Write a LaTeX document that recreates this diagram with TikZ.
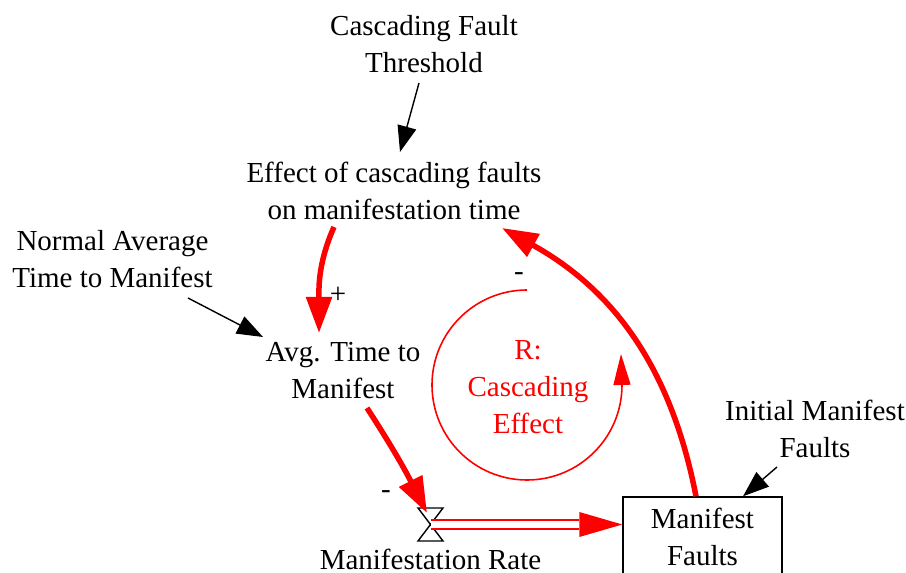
\documentclass[tikz,border=0pt]{standalone}
\usepackage{fontspec}
\setmainfont{Liberation Serif}
\usetikzlibrary{arrows.meta,calc}
\begin{document}
\begin{tikzpicture}[x=1pt,y=1pt,
  txt/.style={align=center, inner sep=0pt, font=\fontsize{29}{37}\selectfont},
  sgn/.style={inner sep=0pt, font=\fontsize{29}{37}\selectfont},
  blk/.style={line width=1.4pt, -{Triangle[length=26pt,width=19pt]}},
  lnk/.style={red, line width=5.5pt, -{Triangle[length=36pt,width=25pt]}},
  stockbox/.style={draw, line width=1.4pt, inner sep=0pt, minimum width=159pt, minimum height=79pt, align=center, font=\fontsize{29}{37}\selectfont},
  valveshape/.style={draw, line width=1.4pt, fill=white}
]
\useasboundingbox (0,0) rectangle (906,573);
\fill[white] (0,0) rectangle (906,573);

% text nodes
\node[txt] (thresh) at (424,529) {Cascading Fault\\Threshold};
\node[txt] (effect) at (394,382) {Effect of cascading faults\\on manifestation time};
\node[txt] (normal) at (112.5,313.5) {Normal Average\\Time to Manifest};
\node[txt] (avg) at (343,202.5) {Avg. Time to\\Manifest};
\node[txt] (initial) at (815,144.5) {Initial Manifest\\Faults};
\node[txt, text=red] (loop) at (528,186) {R:\\Cascading\\Effect};
\node[stockbox] (mf) at (702.5,36.5) {Manifest\\Faults};
\coordinate (valve) at (430.5,48.5);
\node[txt] (rate) at (430.5,14) {Manifestation Rate};

% valve (hourglass)
\draw[valveshape] ($(valve)+(-12.5,16.5)$) -- ($(valve)+(12.5,16.5)$) -- ($(valve)+(-12.5,-16.5)$) -- ($(valve)+(12.5,-16.5)$) -- cycle;

% flow pipe
\coordinate (pipeend) at (mf.west |- valve);
\draw[red, line width=2.4pt, double=white, double distance=6.6pt] (valve) -- ($(pipeend)+(-43,0)$);
\fill[red] ($(pipeend)+(-43,12.5)$) -- (pipeend) -- ($(pipeend)+(-43,-12.5)$) -- cycle;

% black links
\draw[blk] ($(thresh)+(-5,-39)$) -- ($(effect)+(6,39)$);
\draw[blk] ($(normal)+(75.5,-38.5)$) -- ($(avg)+(-80,33.5)$);
\draw[blk] ($(initial)+(-38,-38.5)$) -- ($(mf.north)+(40.5,0)$);

% red causal links
\draw[lnk] ($(effect)+(-60,-36)$) to[out=-114,in=90] ($(avg)+(-24,37.5)$);
\draw[lnk] ($(avg)+(24,-37.5)$) to[out=-57,in=117] ($(valve)+(-3.5,11.5)$);
\draw[lnk] ($(mf.north)+(-6.5,0)$) to[out=101,in=-29] ($(effect)+(108,-37)$);

% loop arc
\coordinate (lc) at ($(loop)+(-1,2)$);
\draw[red, line width=1.6pt] ($(lc)+(0,95)$) arc[start angle=90, end angle=360, radius=95];
\draw[red, line width=1.6pt, -{Triangle[length=31pt,width=17pt]}] ($(lc)+(95,-0.5)$) -- ($(lc)+(94,31)$);

% polarity signs
\node[sgn] (p1) at (338,278) {+};
\node[sgn] (m1) at (386,78.5) {-};
\node[sgn] (m2) at (519,296.5) {-};
\end{tikzpicture}
\end{document}
